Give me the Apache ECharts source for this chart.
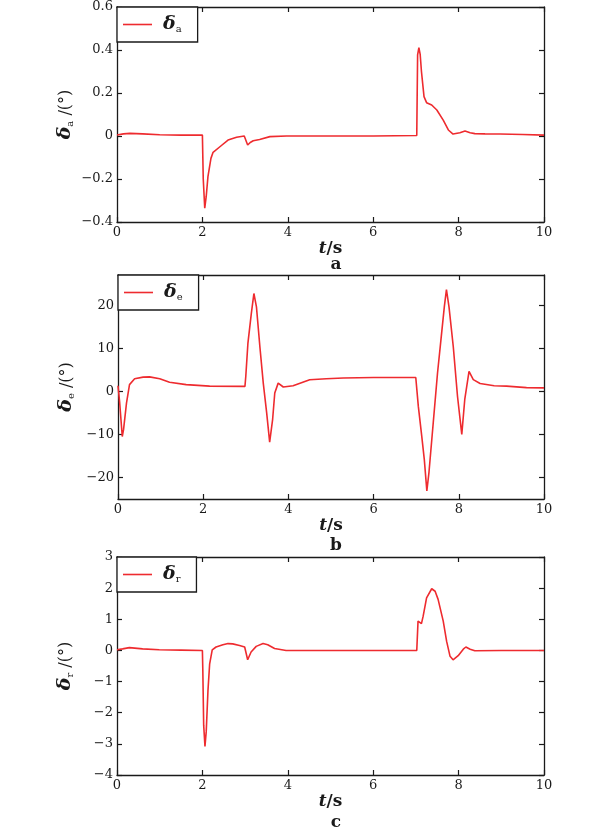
<!DOCTYPE html>
<html>
<head>
<meta charset="utf-8">
<script src="https://cdn.jsdelivr.net/npm/echarts@6/dist/echarts.min.js"></script>
<style>
html,body{margin:0;padding:0;background:#fff;}
#main{width:601px;height:831px;}
</style>
</head>
<body>
<div id="main"></div>
<script>
// Panel a: aileron deflection
var tA = [0,0.15,0.3,0.6,1.0,1.5,2.0,2.02,2.055,2.09,2.13,2.2,2.25,2.41,2.6,2.8,2.98,3.06,3.12,3.19,3.34,3.58,3.97,5.0,6.0,7.02,7.04,7.07,7.1,7.13,7.19,7.25,7.37,7.49,7.64,7.76,7.87,8.03,8.15,8.27,8.38,8.62,8.97,9.5,10];
var vA = [0.005,0.01,0.012,0.01,0.006,0.004,0.004,-0.2,-0.336,-0.28,-0.189,-0.104,-0.076,-0.05,-0.019,-0.006,0,-0.042,-0.03,-0.022,-0.016,-0.003,0,0,0,0.002,0.377,0.411,0.38,0.3,0.183,0.155,0.144,0.121,0.074,0.028,0.009,0.015,0.023,0.015,0.011,0.01,0.009,0.007,0.004];
// Panel b: elevator deflection
var tB = [0,0.04,0.1,0.13,0.2,0.27,0.39,0.59,0.74,0.98,1.21,1.6,2.15,2.98,3.0,3.05,3.13,3.19,3.25,3.33,3.41,3.49,3.56,3.63,3.68,3.76,3.88,4.11,4.5,4.89,5.29,6.0,6.99,7.05,7.13,7.19,7.25,7.3,7.4,7.5,7.58,7.66,7.71,7.77,7.87,7.97,8.07,8.14,8.24,8.34,8.5,8.83,9.12,9.59,10];
var vB = [1.3,-2.7,-10.5,-8.9,-2.7,1.55,2.9,3.3,3.35,2.9,2.1,1.55,1.2,1.15,3.5,11.2,18.1,22.7,19.6,10.4,1.9,-5,-11.8,-6.5,-0.4,1.9,1.0,1.3,2.7,2.9,3.1,3.2,3.2,-3.5,-10.4,-15.8,-23.1,-18.8,-7.3,4.2,11.9,19.6,23.6,19.6,10.4,-1.2,-10,-1.9,4.6,2.7,1.8,1.3,1.2,0.85,0.8];
// Panel c: rudder deflection
var tC = [0,0.13,0.29,0.6,0.99,1.5,2.0,2.01,2.03,2.06,2.09,2.13,2.17,2.23,2.32,2.48,2.6,2.71,2.87,2.99,3.06,3.14,3.26,3.42,3.53,3.69,3.96,5.0,6.0,7.02,7.05,7.09,7.13,7.17,7.25,7.37,7.45,7.52,7.64,7.72,7.8,7.87,7.99,8.11,8.17,8.27,8.38,9.0,10];
var vC = [0.02,0.05,0.09,0.05,0.02,0.01,0,-0.65,-2.4,-3.08,-2.6,-1.3,-0.43,0.02,0.11,0.18,0.22,0.21,0.16,0.11,-0.3,-0.05,0.13,0.22,0.18,0.06,0,0,0,0,0.94,0.88,0.86,1.1,1.69,1.98,1.9,1.64,0.94,0.29,-0.19,-0.3,-0.17,0.04,0.11,0.04,-0.01,0,0];

var xTicks = [0,2,4,6,8,10];
var yTicksA = [-0.4,-0.2,0,0.2,0.4,0.6];
var yTicksB = [-20,-10,0,10,20];
var yTicksC = [-4,-3,-2,-1,0,1,2,3];
var subs = ['a','e','r'];
var panelLabels = ['a','b','c'];

function zip(t, v){ return t.map(function(x,i){ return [x, v[i]]; }); }

var RED = '#ee2b2f';
var INK = '#1a1a1a';
var SERIF = 'DejaVu Serif';

function fmt(v){
  var r = Math.round(v*10)/10;
  if (r === 0) return '0';
  var s = Math.abs(r).toString();
  return (r < 0 ? '\u2212' : '') + s;
}

var grids = [
  {left:117, top:7, width:427, height:215},
  {left:118, top:275, width:426, height:224},
  {left:117, top:557, width:427, height:218}
];
var yRanges = [[-0.4,0.6],[-25,27],[-4,3]];
var yTicks = [yTicksA, yTicksB, yTicksC];
var datas = [zip(tA,vA), zip(tB,vB), zip(tC,vC)];
var labelY = [251, 532, 809];

var axisLine = {show:true, onZero:false, lineStyle:{color:INK, width:1.3}};
var tick = {show:true, inside:true, length:5, lineStyle:{color:INK, width:1.2}};

var option = {
  backgroundColor:'#fff',
  animation:false,
  grid: grids.map(function(g){ return Object.assign({containLabel:false}, g); }),
  title: panelLabels.map(function(l,i){
    return {text:l, left:331, top:labelY[i], textAlign:'center',
      textStyle:{fontFamily:SERIF, fontWeight:'bold', fontSize:17, color:INK}};
  }),
  legend: subs.map(function(s,i){
    return {data:['d'+i], left:grids[i].left, top:grids[i].top, orient:'vertical',
      backgroundColor:'#fff', borderColor:INK, borderWidth:1.3, borderRadius:0,
      padding:[8,16,8,6], itemWidth:29, itemHeight:1.6, icon:'rect',
      formatter: function(){ return '{d|\u03b4}{s|'+s+'}'; },
      textStyle:{color:INK, rich:{
        d:{fontFamily:SERIF, fontWeight:'bold', fontStyle:'italic', fontSize:19, padding:[0,0,0,6], color:INK},
        s:{fontFamily:SERIF, fontSize:10, padding:[9,0,0,0], color:INK}
      }}
    };
  }),
  xAxis: [],
  yAxis: [],
  series: []
};

for (var i=0;i<3;i++){
  option.xAxis.push({
    type:'value', gridIndex:i, min:0, max:10, interval:2, position:'bottom',
    axisLine:axisLine, axisTick:tick, splitLine:{show:false},
    axisLabel:{fontFamily:SERIF, fontSize:13, color:INK, margin:4},
    name:'{t|t}{s|/s}', nameLocation:'middle', nameGap:9,
    nameTextStyle:{rich:{
      t:{fontFamily:SERIF, fontStyle:'italic', fontWeight:'bold', fontSize:17, color:INK},
      s:{fontFamily:SERIF, fontWeight:'bold', fontSize:17, color:INK}
    }}
  });
  option.xAxis.push({
    type:'value', gridIndex:i, min:0, max:10, interval:2, position:'top',
    axisLine:axisLine, axisTick:tick, splitLine:{show:false}, axisLabel:{show:false}
  });
  var yr = yRanges[i];
  option.yAxis.push({
    type:'value', gridIndex:i, min:yr[0], max:yr[1], position:'left',
    axisLine:axisLine, splitLine:{show:false},
    axisTick:Object.assign({customValues:yTicks[i]}, tick),
    axisLabel:{customValues:yTicks[i], fontFamily:SERIF, fontSize:13, color:INK, margin:4, formatter:fmt},
    name:'{d|\u03b4}{s|'+subs[i]+'}{n| /(\u00b0)}', nameLocation:'middle', nameRotate:90, nameGap:42,
    nameMoveOverlap:false,
    nameTextStyle:{rich:{
      d:{fontFamily:SERIF, fontWeight:'bold', fontStyle:'italic', fontSize:19, color:INK},
      s:{fontFamily:SERIF, fontSize:10, padding:[9,0,0,0], color:INK},
      n:{fontFamily:SERIF, fontSize:16, color:INK}
    }}
  });
  option.yAxis.push({
    type:'value', gridIndex:i, min:yr[0], max:yr[1], position:'right',
    axisLine:axisLine, splitLine:{show:false},
    axisTick:Object.assign({customValues:yTicks[i]}, tick),
    axisLabel:{show:false}
  });
  option.series.push({
    name:'d'+i, type:'line', xAxisIndex:2*i, yAxisIndex:2*i, data:datas[i],
    symbol:'none', smooth:false, lineStyle:{color:RED, width:1.6}, itemStyle:{color:RED}
  });
}

var chart = echarts.init(document.getElementById('main'), null, {renderer:'canvas'});
chart.setOption(option);
</script>
</body>
</html>
